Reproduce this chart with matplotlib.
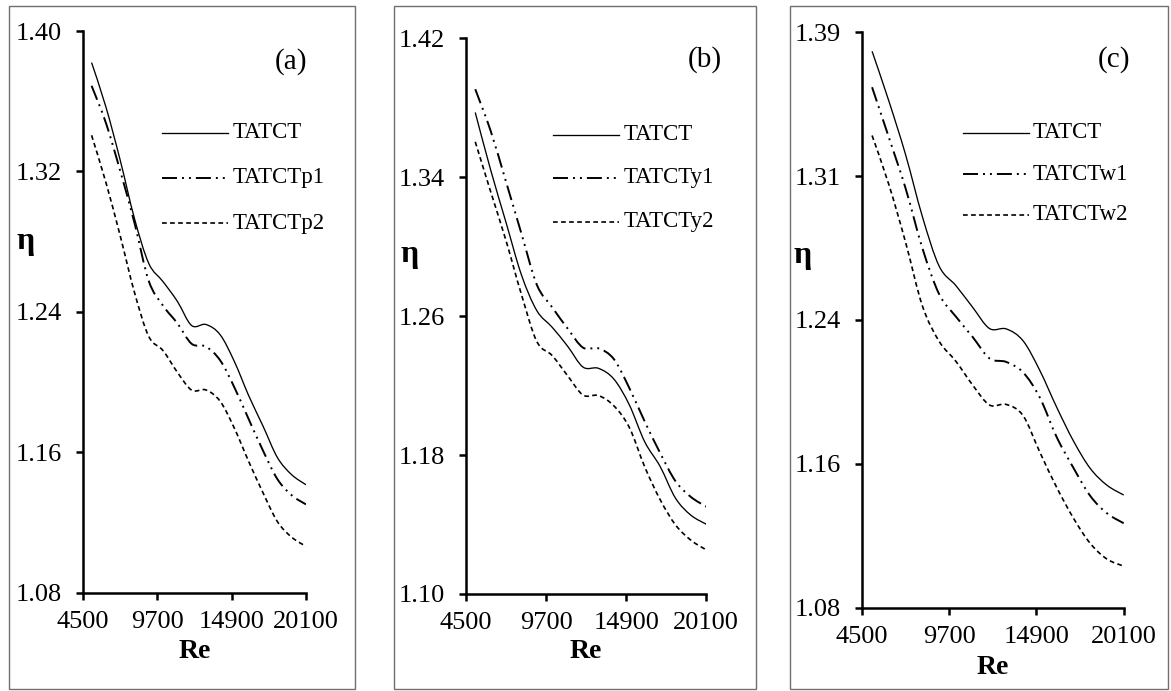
import numpy as np
import matplotlib
matplotlib.use("Agg")
import matplotlib.pyplot as plt
from matplotlib.path import Path
from matplotlib.patches import PathPatch, Rectangle
from matplotlib.lines import Line2D

plt.rcParams['font.family'] = ['Liberation Serif', 'DejaVu Serif']
plt.rcParams['lines.scale_dashes'] = False

# Reynolds numbers shared by every series
re = [5100, 6100, 7100, 8100, 9100, 10100, 11100, 12100,
      13100, 14100, 15100, 16100, 17100, 18100, 19100, 20100]

# (a) pitch variants
a_tatct = [1.382, 1.3568, 1.3265, 1.2932, 1.2676, 1.2572, 1.2460, 1.2322,
           1.2328, 1.2269, 1.2115, 1.1921, 1.1748, 1.1570, 1.1472, 1.1415]
a_p1 = [1.3688, 1.3477, 1.3204, 1.2907, 1.2576, 1.2435, 1.2335, 1.2218,
        1.2202, 1.2123, 1.1968, 1.1787, 1.1608, 1.1447, 1.1355, 1.1303]
a_p2 = [1.3406, 1.3138, 1.2834, 1.2511, 1.2260, 1.2179, 1.2056, 1.1954,
        1.1955, 1.1890, 1.1735, 1.1546, 1.1368, 1.1205, 1.1116, 1.1064]

# (b) y-variants
b_tatct = [1.3774, 1.3443, 1.3140, 1.2838, 1.2632, 1.2536, 1.2427, 1.2307,
           1.2300, 1.2238, 1.2090, 1.1877, 1.1735, 1.1552, 1.1454, 1.1402]
b_y1 = [1.3908, 1.3668, 1.3374, 1.3076, 1.2781, 1.2651, 1.2529, 1.2419,
        1.2415, 1.2353, 1.2187, 1.1994, 1.1813, 1.1650, 1.1559, 1.1503]
b_y2 = [1.3605, 1.3318, 1.3035, 1.2725, 1.2454, 1.2373, 1.2257, 1.2146,
        1.2143, 1.2084, 1.1960, 1.1733, 1.1544, 1.1398, 1.1310, 1.1254]

# (c) w-variants
c_tatct = [1.3798, 1.3530, 1.3240, 1.2907, 1.2640, 1.2535, 1.2418, 1.2304,
           1.2302, 1.2238, 1.2078, 1.1881, 1.1699, 1.1551, 1.1460, 1.1407]
c_w1 = [1.3604, 1.3334, 1.3059, 1.2737, 1.2489, 1.2368, 1.2258, 1.2143,
        1.2124, 1.2068, 1.1932, 1.1720, 1.1554, 1.1403, 1.1309, 1.1255]
c_w2 = [1.3344, 1.3080, 1.2768, 1.2426, 1.2235, 1.2127, 1.1999, 1.1892,
        1.1895, 1.1835, 1.1638, 1.1449, 1.1283, 1.1147, 1.1062, 1.1024]

x_ticks = [4500, 9700, 14900, 20100]
x_tick_labels = ["4500", "9700", "14900", "20100"]

a_yticks = [1.08, 1.16, 1.24, 1.32, 1.40]
a_ylabels = ["1.08", "1.16", "1.24", "1.32", "1.40"]
b_yticks = [1.10, 1.18, 1.26, 1.34, 1.42]
b_ylabels = ["1.10", "1.18", "1.26", "1.34", "1.42"]
c_yticks = [1.08, 1.1575, 1.235, 1.3125, 1.39]
c_ylabels = ["1.08", "1.16", "1.24", "1.31", "1.39"]

W, H = 1171, 691
fig = plt.figure(figsize=(W / 100, H / 100), dpi=100)
fig.patch.set_facecolor('white')


def fx(px):
    return px / W


def fy(py):
    return (H - py) / H


# line styles: solid, long-dash-dot-dot, short dash
STYLES = [
    dict(lw=0.95, ls='-'),
    dict(lw=1.4, ls=(0, (10.8, 3.6, 1.4, 3.6, 1.4, 3.6))),
    dict(lw=1.2, ls=(0, (3.4, 2.4))),
]


def smooth_path(x, y):
    """Cubic Bezier path through the points (Catmull-Rom tangents)."""
    pts = np.column_stack([x, y]).astype(float)
    n = len(pts)
    verts = [pts[0]]
    codes = [Path.MOVETO]
    for i in range(n - 1):
        p0 = pts[i - 1] if i > 0 else pts[i]
        p1 = pts[i]
        p2 = pts[i + 1]
        p3 = pts[i + 2] if i + 2 < n else pts[i + 1]
        verts += [p1 + (p2 - p0) / 6.0, p2 - (p3 - p1) / 6.0, p2]
        codes += [Path.CURVE4] * 3
    return Path(verts, codes)


panels = [
    dict(axpx=(83, 31, 306, 592.7), box=(9, 6, 355, 689),
         series=[a_tatct, a_p1, a_p2], labels=["TATCT", "TATCTp1", "TATCTp2"],
         ylim=(1.08, 1.40), yticks=a_yticks, ylabels=a_ylabels, tag="(a)",
         tagpos=(291, 62), etapos=(26, 241), repos=(195, 652),
         leg=(162, 228, 233, [133, 178, 223])),
    dict(axpx=(466, 38.5, 706.3, 594), box=(394, 6, 756, 689),
         series=[b_tatct, b_y1, b_y2], labels=["TATCT", "TATCTy1", "TATCTy2"],
         ylim=(1.10, 1.42), yticks=b_yticks, ylabels=b_ylabels, tag="(b)",
         tagpos=(705, 60), etapos=(410, 254), repos=(586, 652),
         leg=(553, 619, 624, [135, 178, 222])),
    dict(axpx=(862, 32.3, 1123.7, 607.7), box=(790, 6, 1168, 689),
         series=[c_tatct, c_w1, c_w2], labels=["TATCT", "TATCTw1", "TATCTw2"],
         ylim=(1.08, 1.39), yticks=c_yticks, ylabels=c_ylabels, tag="(c)",
         tagpos=(1114, 60), etapos=(803, 256), repos=(993, 668),
         leg=(963, 1029, 1033, [133, 174, 215])),
]

for p in panels:
    x0, y0, x1, y1 = p['axpx']
    ax = fig.add_axes([fx(x0), fy(y1), fx(x1 - x0), (y1 - y0) / H])
    ax.set_xlim(4500, 20100)
    ax.set_ylim(*p['ylim'])
    for s in ('top', 'right'):
        ax.spines[s].set_visible(False)
    for s in ('left', 'bottom'):
        ax.spines[s].set_linewidth(1.8)
        ax.spines[s].set_color('black')
    ax.set_xticks(x_ticks)
    ax.set_xticklabels(x_tick_labels)
    ax.set_yticks(p['yticks'])
    ax.set_yticklabels(p['ylabels'])
    ax.tick_params(axis='both', direction='out', length=5, width=1.8,
                   labelsize=19, colors='black')
    ax.tick_params(axis='y', pad=10)
    ax.tick_params(axis='x', pad=8)
    ax.patch.set_alpha(0)

    for vals, st in zip(p['series'], STYLES):
        patch = PathPatch(smooth_path(re, vals), fill=False, edgecolor='black',
                          linewidth=st['lw'], linestyle=st['ls'],
                          capstyle='butt', joinstyle='round')
        ax.add_patch(patch)

    # legend keys
    lx0, lx1, tx, rows = p['leg']
    for st, lab, ry in zip(STYLES, p['labels'], rows):
        fig.add_artist(Line2D([fx(lx0), fx(lx1)], [fy(ry), fy(ry)],
                              transform=fig.transFigure, color='black',
                              linewidth=st['lw'], linestyle=st['ls']))
        fig.text(fx(tx), fy(ry), lab, fontsize=16.5, ha='left', va='center')

    fig.text(fx(p['tagpos'][0]), fy(p['tagpos'][1]), p['tag'], fontsize=21,
             ha='center', va='center')
    fig.text(fx(p['etapos'][0]), fy(p['etapos'][1]), "η", fontsize=23,
             fontweight='bold', ha='center', va='center')
    fig.text(fx(p['repos'][0]), fy(p['repos'][1]), "Re", fontsize=20,
             fontweight='bold', ha='center', va='center')

    bx0, by0, bx1, by1 = p['box']
    fig.add_artist(Rectangle((fx(bx0), fy(by1)), fx(bx1 - bx0), (by1 - by0) / H,
                             transform=fig.transFigure, fill=False,
                             edgecolor='#707070', linewidth=1.0))

fig.savefig("out.png", dpi=100)
